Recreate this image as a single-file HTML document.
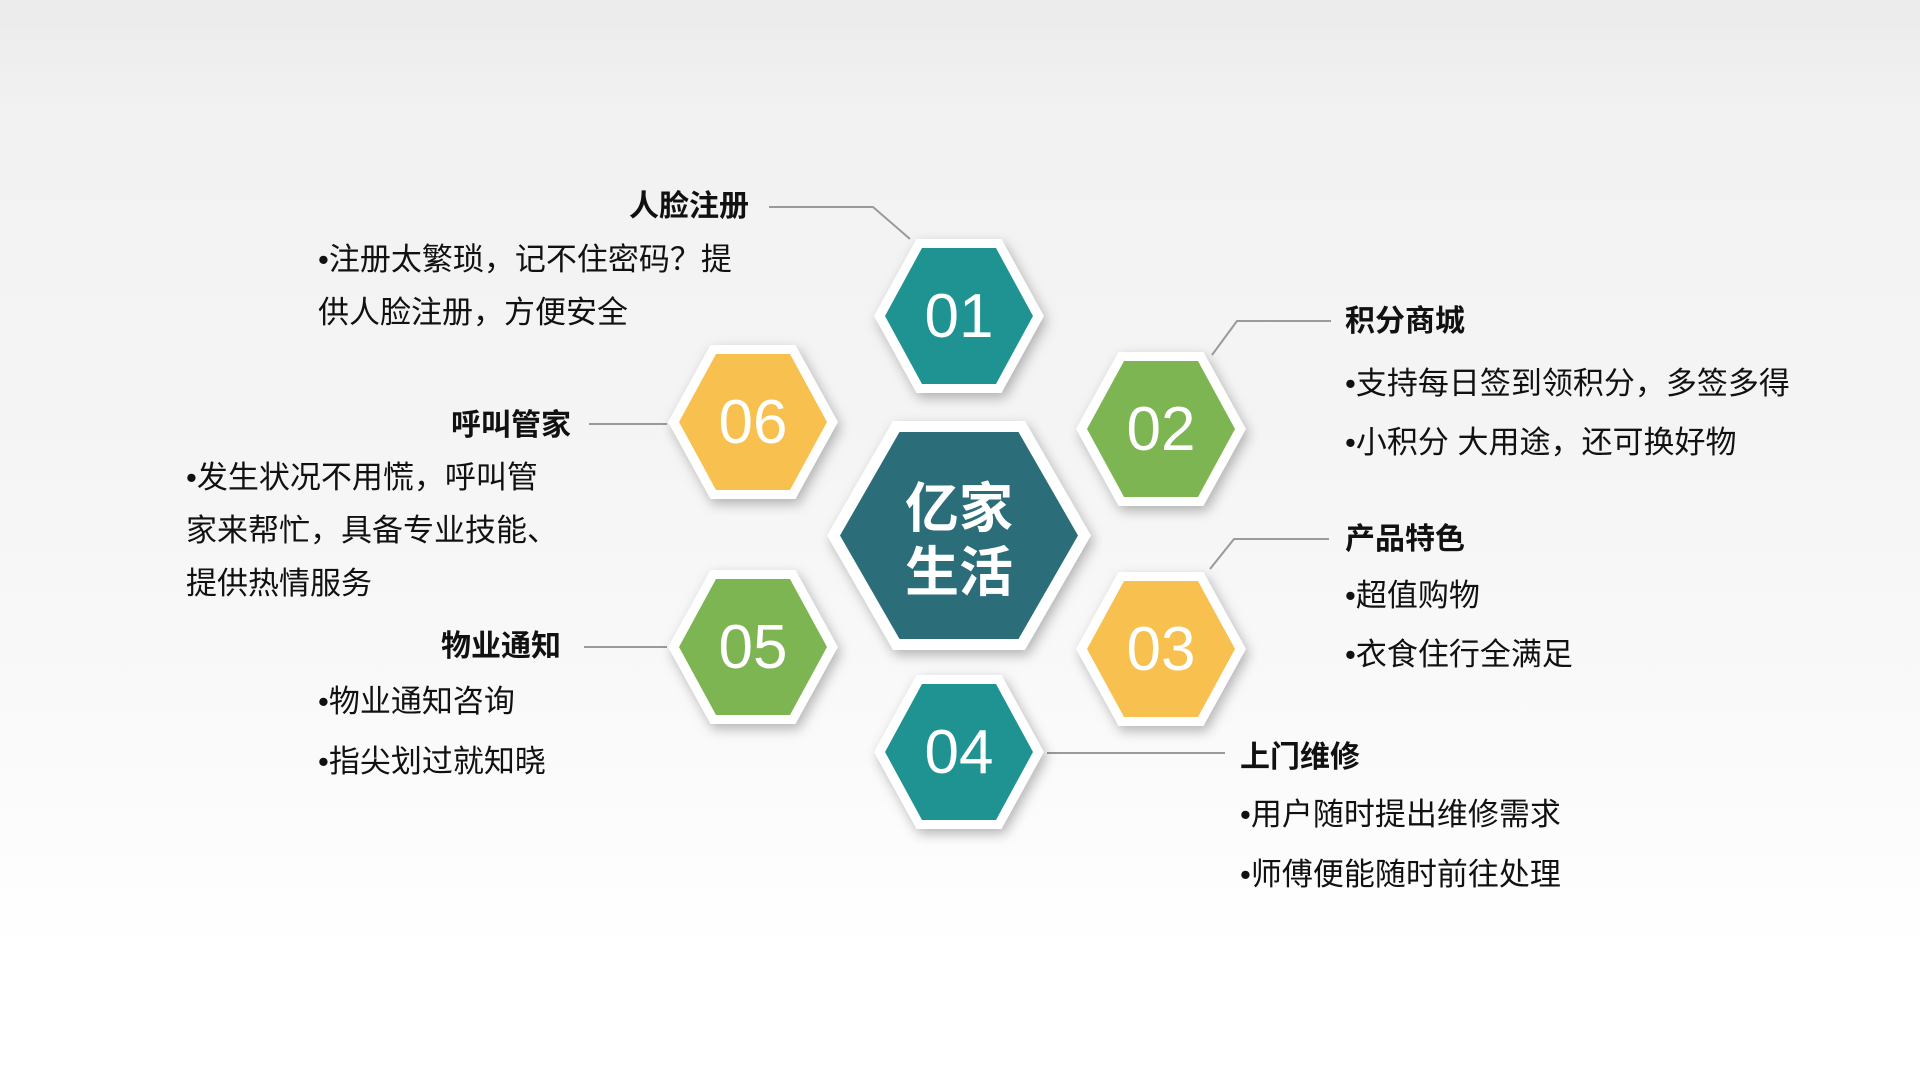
<!DOCTYPE html>
<html><head><meta charset="utf-8"><style>
html,body{margin:0;padding:0}
body{width:1920px;height:1080px;position:relative;overflow:hidden;
background:linear-gradient(180deg,#ebebeb 0px,#f2f2f2 120px,#f4f4f4 400px,#fafafa 750px,#ffffff 950px);
font-family:"Liberation Sans","Noto Sans CJK SC",sans-serif;color:#111}
.hex{position:absolute;clip-path:polygon(25% 0,75% 0,100% 50%,75% 100%,25% 100%,0 50%);background:#fff}
.hex .in{position:absolute;left:11px;right:11px;top:9px;bottom:9px;clip-path:polygon(25% 0,75% 0,100% 50%,75% 100%,25% 100%,0 50%);display:flex;align-items:center;justify-content:center;color:#fff;font-size:62px;font-family:"Liberation Sans",sans-serif}
.sh{position:absolute;filter:drop-shadow(3px 5px 6px rgba(0,0,0,0.28))}
.t{position:absolute;font-weight:bold;font-size:30px;line-height:34px;white-space:nowrap}
.b{position:absolute;font-size:31px;line-height:53px;white-space:nowrap;letter-spacing:0px}
svg{position:absolute;left:0;top:0}
</style></head><body>
<svg width="1920" height="1080"><g stroke="#9a9a9a" stroke-width="2" fill="none">
<polyline points="769,207 873,207 910,239"/>
<polyline points="1212,355 1237,321 1331,321"/>
<polyline points="1210,569 1234,539 1329,539"/>
<polyline points="1047,753 1225,753"/>
<polyline points="589,424 667,424"/>
<polyline points="584,647 667,647"/>
</g></svg>

<div class="sh"><div class="hex" style="left:874px;top:239px;width:170px;height:154px"><div class="in" style="background:#1e9391">01</div></div></div>
<div class="sh"><div class="hex" style="left:1076px;top:352px;width:170px;height:154px"><div class="in" style="background:#7db553">02</div></div></div>
<div class="sh"><div class="hex" style="left:1076px;top:572px;width:170px;height:154px"><div class="in" style="background:#f8c04e">03</div></div></div>
<div class="sh"><div class="hex" style="left:874px;top:675px;width:170px;height:154px"><div class="in" style="background:#1e9391">04</div></div></div>
<div class="sh"><div class="hex" style="left:668px;top:570px;width:170px;height:154px"><div class="in" style="background:#7db553">05</div></div></div>
<div class="sh"><div class="hex" style="left:668px;top:345px;width:170px;height:154px"><div class="in" style="background:#f8c04e">06</div></div></div>
<div class="sh"><div class="hex" style="left:827px;top:421px;width:264px;height:229px"><div class="in" style="background:#2b6e7a;left:13px;right:13px;top:11px;bottom:11px;font-family:'Noto Sans CJK SC',sans-serif;font-weight:bold;font-size:54px;line-height:64px;text-align:center">亿家<br>生活</div></div></div>

<div class="t" style="right:1171px;top:190px">人脸注册</div>
<div class="b" style="left:318px;top:233px">•注册太繁琐，记不住密码？提<br>供人脸注册，方便安全</div>

<div class="t" style="left:1345px;top:305px">积分商城</div>
<div class="b" style="left:1345px;top:354px;line-height:59px">•支持每日签到领积分，多签多得<br>•小积分 大用途，还可换好物</div>

<div class="t" style="left:1345px;top:523px">产品特色</div>
<div class="b" style="left:1345px;top:566px;line-height:59px">•超值购物<br>•衣食住行全满足</div>

<div class="t" style="left:1240px;top:741px">上门维修</div>
<div class="b" style="left:1240px;top:785px;line-height:60px">•用户随时提出维修需求<br>•师傅便能随时前往处理</div>

<div class="t" style="right:1349px;top:409px">呼叫管家</div>
<div class="b" style="left:186px;top:451px">•发生状况不用慌，呼叫管<br>家来帮忙，具备专业技能、<br>提供热情服务</div>

<div class="t" style="right:1359px;top:630px">物业通知</div>
<div class="b" style="left:318px;top:672px;line-height:60px">•物业通知咨询<br>•指尖划过就知晓</div>
</body></html>
